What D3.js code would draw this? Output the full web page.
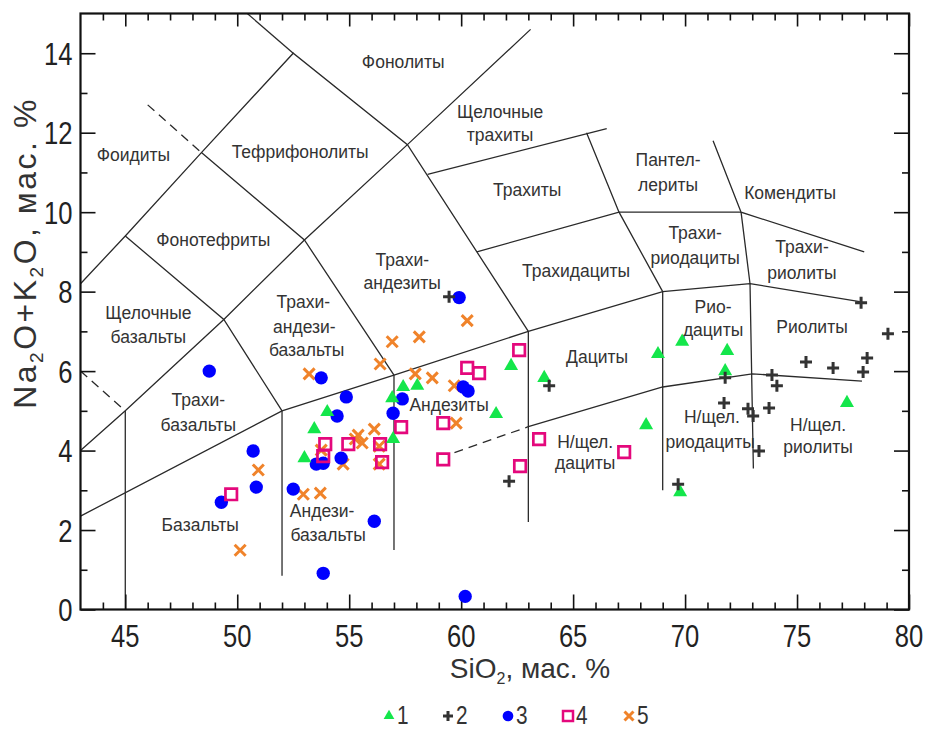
<!DOCTYPE html>
<html>
<head>
<meta charset="utf-8">
<script src="https://cdn.jsdelivr.net/npm/d3@7"></script>
<style>
  body { margin: 0; background: #fff; }
  svg text { font-family: "Liberation Sans", Arial, sans-serif; fill: #222; }
</style>
</head>
<body>
<div id="chart"></div>
<script>
// TAS diagram (SiO2 vs Na2O+K2O), five groups of samples

// group 1 - triangles
const s1Si  = [53.0, 53.44, 54.02, 56.92, 57.41, 58.04, 56.96, 62.23, 63.71, 61.56, 68.79, 69.87, 68.26, 69.78, 71.88, 71.79, 77.23];
const s1Alk = [3.81, 4.54, 4.97, 5.32, 5.60, 5.63, 4.29, 6.13, 5.83, 4.92, 6.43, 6.74, 4.64, 2.95, 6.51, 6.00, 5.20];
// group 2 - crosses
const s2Si  = [59.46, 63.93, 62.14, 69.69, 77.86, 79.06, 75.4, 76.61, 77.95, 78.13, 73.88, 74.1, 71.79, 71.74, 72.81, 73.04, 73.75, 73.3];
const s2Alk = [7.87, 5.63, 3.23, 3.15, 7.72, 6.94, 6.23, 6.08, 5.98, 6.33, 5.90, 5.63, 5.83, 5.20, 5.05, 4.87, 5.07, 3.99];
// group 3 - circles
const s3Si  = [48.75, 53.75, 54.87, 54.46, 57.37, 56.96, 59.91, 60.09, 60.31, 50.71, 50.85, 49.29, 52.5, 53.53, 53.84, 54.64, 56.12, 53.84, 60.18];
const s3Alk = [6.00, 5.83, 5.35, 4.87, 5.30, 4.94, 7.85, 5.60, 5.50, 3.99, 3.08, 2.70, 3.03, 3.66, 3.68, 3.81, 2.22, 0.91, 0.33];
// group 4 - open squares
const s4Si  = [49.73, 53.93, 53.84, 54.96, 56.38, 56.47, 57.32, 59.2, 59.2, 60.27, 60.8, 62.59, 63.48, 62.63, 67.28];
const s4Alk = [2.90, 4.16, 3.86, 4.16, 4.16, 3.71, 4.59, 4.69, 3.78, 6.08, 5.95, 6.53, 4.29, 3.61, 3.96];
// group 5 - x
const s5Si  = [50.94, 50.13, 53.21, 52.95, 53.71, 53.75, 54.73, 55.27, 55.58, 55.4, 56.12, 56.34, 56.34, 56.38, 56.92, 58.13, 57.95, 58.71, 59.69, 59.78, 60.27];
const s5Alk = [3.51, 1.49, 5.93, 2.90, 2.93, 4.01, 3.66, 4.29, 4.19, 4.39, 4.54, 4.11, 3.66, 6.18, 6.74, 6.86, 5.93, 5.83, 5.63, 4.69, 7.27];

const legendNames = ["1", "2", "3", "4", "5"];

const xTicks = [45, 50, 55, 60, 65, 70, 75, 80];
const yTicks = [0, 2, 4, 6, 8, 10, 12, 14];

// field boundaries (SiO2, alkali)
const solidLines = [
  [[43, 2.35], [52, 5], [57, 5.9], [63, 7], [69, 8], [72.9, 8.2], [77.8, 7.75]],
  [[43, 4], [45, 5], [49.4, 7.3], [53, 9.3], [57.6, 11.7], [63.1, 14.6]],
  [[43, 8.2], [45, 9.4], [48.4, 11.5], [52.5, 14], [57.6, 11.7], [63, 7]],
  [[50.45, 15], [52.5, 14]],
  [[45, 9.4], [49.4, 7.3], [52, 5]],
  [[48.4, 11.5], [53, 9.3], [57, 5.9]],
  [[45, 0], [45, 5]],
  [[52, 0.85], [52, 5]],
  [[57, 1.5], [57, 5.9]],
  [[63, 2.2], [63, 7]],
  [[69, 3], [69, 8]],
  [[72.5, 10], [72.9, 8.2], [73.05, 3.55]],
  [[58.5, 10.95], [66.5, 12.1]],
  [[60.7, 9], [67.05, 10], [72.5, 10]],
  [[65.6, 12], [67.05, 10], [69, 8]],
  [[71.25, 11.8], [72.5, 10], [78, 9]],
  [[63, 4.6], [69, 5.6], [73, 5.93], [77.9, 5.75]]
];
const dashedLines = [
  [[46, 12.7], [48.4, 11.5]],
  [[43, 6], [45, 5]],
  [[59.7, 3.95], [63, 4.6]]
];

const fieldLabels = [
  ["Фонолиты", 57.41, 13.78],
  ["Щелочные", 61.74, 12.52], ["трахиты", 61.74, 11.94],
  ["Тефрифонолиты", 52.81, 11.51],
  ["Фоидиты", 45.36, 11.44],
  ["Фонотефриты", 48.93, 9.30],
  ["Трахиты", 62.95, 10.56],
  ["Пантел-", 69.24, 11.31], ["лериты", 69.24, 10.68],
  ["Комендиты", 74.69, 10.48],
  ["Трахи-", 70.45, 9.48], ["риодациты", 70.45, 8.85],
  ["Трахи-", 75.22, 9.12], ["риолиты", 75.22, 8.47],
  ["Трахидациты", 65.13, 8.52],
  ["Трахи-", 57.37, 8.8], ["андезиты", 57.37, 8.22],
  ["Щелочные", 46.03, 7.46], ["базальты", 46.03, 6.86],
  ["Трахи-", 52.95, 7.74], ["андези-", 53.0, 7.11], ["базальты", 53.1, 6.53],
  ["Трахи-", 48.26, 5.27], ["базальты", 48.26, 4.64],
  ["Базальты", 48.35, 2.13],
  ["Андези-", 53.79, 2.48], ["базальты", 54.06, 1.88],
  ["Андезиты", 59.46, 5.15],
  ["Дациты", 66.07, 6.36],
  ["Н/щел.", 65.54, 4.22], ["дациты", 65.54, 3.69],
  ["Рио-", 71.25, 7.61], ["дациты", 71.25, 7.04],
  ["Риолиты", 75.67, 7.11],
  ["Н/щел.", 71.2, 4.85], ["риодациты", 71.12, 4.22],
  ["Н/щел.", 75.94, 4.64], ["риолиты", 75.94, 4.09]
];

var W = 928, H = 731;
var margin = {top: 13.5, left: 80.5, right: 19, bottom: 121.5};
var width = W - margin.left - margin.right;
var height = H - margin.top - margin.bottom;

var svg = d3.select("#chart").append("svg")
    .attr("width", W)
    .attr("height", H);

var x = d3.scaleLinear().domain([43, 80]).range([margin.left, margin.left + width]);
var y = d3.scaleLinear().domain([0, 15]).range([margin.top + height, margin.top]);

// clip for the field lines
svg.append("clipPath").attr("id", "plotclip")
  .append("rect")
    .attr("x", x(43)).attr("y", y(15))
    .attr("width", width).attr("height", height);

var line = d3.line().x(d => x(d[0])).y(d => y(d[1]));

var fields = svg.append("g").attr("clip-path", "url(#plotclip)");
fields.selectAll("path.solid")
  .data(solidLines)
  .enter().append("path")
    .attr("class", "solid")
    .attr("d", line)
    .attr("fill", "none")
    .attr("stroke", "#2a2a2a")
    .attr("stroke-width", 1.3);
fields.selectAll("path.dash")
  .data(dashedLines)
  .enter().append("path")
    .attr("class", "dash")
    .attr("d", line)
    .attr("fill", "none")
    .attr("stroke", "#2a2a2a")
    .attr("stroke-width", 1.3)
    .attr("stroke-dasharray", "9,6");

svg.selectAll("text.field")
  .data(fieldLabels)
  .enter().append("text")
    .attr("class", "field")
    .attr("x", d => x(d[1]))
    .attr("y", d => y(d[2]))
    .attr("dy", "0.35em")
    .attr("text-anchor", "middle")
    .style("font-size", "17.5px")
    .style("fill", "#333")
    .text(d => d[0]);

// axes: ticks inside on all four sides
function ticksIn(axis, minorVals) {
  return axis.tickValues(minorVals).tickFormat("").tickSizeOuter(0);
}
var xMinor = d3.range(44, 80, 1).filter(v => v % 5 != 0);
var yMinor = d3.range(1, 15, 2);

svg.append("g").attr("transform", "translate(0," + y(0) + ")")
  .call(d3.axisTop(x).tickValues(xTicks).tickSize(15).tickSizeOuter(0).tickFormat(""));
svg.append("g").attr("transform", "translate(0," + y(0) + ")")
  .call(ticksIn(d3.axisTop(x).tickSize(7), xMinor));
svg.append("g").attr("transform", "translate(0," + y(15) + ")")
  .call(d3.axisBottom(x).tickValues(xTicks).tickSize(13).tickSizeOuter(0).tickFormat(""));
svg.append("g").attr("transform", "translate(0," + y(15) + ")")
  .call(ticksIn(d3.axisBottom(x).tickSize(7), xMinor));
svg.append("g").attr("transform", "translate(" + x(43) + ",0)")
  .call(d3.axisRight(y).tickValues(yTicks).tickSize(15).tickSizeOuter(0).tickFormat(""));
svg.append("g").attr("transform", "translate(" + x(43) + ",0)")
  .call(ticksIn(d3.axisRight(y).tickSize(7), yMinor));
svg.append("g").attr("transform", "translate(" + x(80) + ",0)")
  .call(d3.axisLeft(y).tickValues(yTicks).tickSize(15).tickSizeOuter(0).tickFormat(""));
svg.append("g").attr("transform", "translate(" + x(80) + ",0)")
  .call(ticksIn(d3.axisLeft(y).tickSize(7), yMinor));

svg.selectAll(".tick line").attr("stroke", "#111").attr("stroke-width", 1.6);
svg.selectAll(".domain").remove();

svg.append("rect")
    .attr("x", x(43)).attr("y", y(15))
    .attr("width", width).attr("height", height)
    .attr("fill", "none")
    .attr("stroke", "#111")
    .attr("stroke-width", 2.2);

// tick labels, condensed like the original
var narrow = 0.8;
svg.selectAll("text.xlab")
  .data(xTicks)
  .enter().append("text")
    .attr("class", "xlab")
    .attr("transform", d => "translate(" + x(d) + "," + (y(0) + 37) + ") scale(" + narrow + ",1)")
    .attr("text-anchor", "middle")
    .style("font-size", "32px")
    .text(d => d);
svg.selectAll("text.ylab")
  .data(yTicks)
  .enter().append("text")
    .attr("class", "ylab")
    .attr("transform", d => "translate(" + (x(43) - 8) + "," + (y(d) + 11.5) + ") scale(" + narrow + ",1)")
    .attr("text-anchor", "end")
    .style("font-size", "32px")
    .text(d => d);

// axis titles
var xt = svg.append("text")
    .attr("x", 530).attr("y", 678)
    .attr("text-anchor", "middle")
    .style("font-size", "28px")
    .style("fill", "#333");
xt.append("tspan").text("SiO");
xt.append("tspan").attr("dy", 6).style("font-size", "16px").text("2");
xt.append("tspan").attr("dy", -6).text(", мас. %");

var yt = svg.append("text")
    .attr("transform", "translate(36,253) rotate(-90)")
    .attr("text-anchor", "middle")
    .style("font-size", "32px")
    .style("letter-spacing", "2.5px")
    .style("fill", "#333");
yt.append("tspan").text("Na");
yt.append("tspan").attr("dy", 7).style("font-size", "19px").text("2");
yt.append("tspan").attr("dy", -7).text("O+K");
yt.append("tspan").attr("dy", 7).style("font-size", "19px").text("2");
yt.append("tspan").attr("dy", -7).text("O, мас. %");

// markers
var triangle = d3.symbol().type(d3.symbolTriangle);
var circle = d3.symbol().type(d3.symbolCircle);
var square = d3.symbol().type(d3.symbolSquare);
function plusPath(r) { return `M${-r},0H${r}M0,${-r}V${r}`; }
function xPath(r) { return `M${-r},${-r}L${r},${r}M${-r},${r}L${r},${-r}`; }

var colours = {g: "#14e64b", k: "#333333", b: "#0000ff", p: "#e4087c", o: "#f0832a"};

var marks = svg.append("g");

marks.selectAll("path.s5")
  .data(d3.zip(s5Si, s5Alk))
  .enter().append("path")
    .attr("transform", d => "translate(" + x(d[0]) + "," + y(d[1]) + ")")
    .attr("d", xPath(5.5))
    .attr("stroke", colours.o)
    .attr("stroke-width", 3)
    .attr("fill", "none");

marks.selectAll("path.s3")
  .data(d3.zip(s3Si, s3Alk))
  .enter().append("path")
    .attr("transform", d => "translate(" + x(d[0]) + "," + y(d[1]) + ")")
    .attr("d", circle.size(140)())
    .attr("fill", colours.b);

marks.selectAll("path.s4")
  .data(d3.zip(s4Si, s4Alk))
  .enter().append("path")
    .attr("transform", d => "translate(" + x(d[0]) + "," + y(d[1]) + ")")
    .attr("d", square.size(132)())
    .attr("fill", "none")
    .attr("stroke", colours.p)
    .attr("stroke-width", 2.7);

marks.selectAll("path.s1")
  .data(d3.zip(s1Si, s1Alk))
  .enter().append("path")
    .attr("transform", d => "translate(" + x(d[0]) + "," + y(d[1]) + ")")
    .attr("d", triangle.size(85)())
    .attr("fill", colours.g);

marks.selectAll("path.s2")
  .data(d3.zip(s2Si, s2Alk))
  .enter().append("path")
    .attr("transform", d => "translate(" + x(d[0]) + "," + y(d[1]) + ")")
    .attr("d", plusPath(6))
    .attr("stroke", colours.k)
    .attr("stroke-width", 3)
    .attr("fill", "none");

// legend
var legendX = [389, 448, 508, 568, 629];
var leg = svg.append("g");
legendNames.forEach(function(name, i) {
  var g = leg.append("g").attr("transform", "translate(" + legendX[i] + ",716)");
  if (i == 0) g.append("path").attr("d", triangle.size(50)()).attr("fill", colours.g);
  if (i == 1) g.append("path").attr("d", plusPath(5)).attr("stroke", colours.k).attr("stroke-width", 3);
  if (i == 2) g.append("path").attr("d", circle.size(90)()).attr("fill", colours.b);
  if (i == 3) g.append("path").attr("d", square.size(100)()).attr("fill", "none").attr("stroke", colours.p).attr("stroke-width", 2.5);
  if (i == 4) g.append("path").attr("d", xPath(4.5)).attr("stroke", colours.o).attr("stroke-width", 3);
  g.append("text")
    .attr("transform", "translate(8,8) scale(" + narrow + ",1)")
    .style("font-size", "26px")
    .style("fill", "#333")
    .text(name);
});
</script>
</body>
</html>
